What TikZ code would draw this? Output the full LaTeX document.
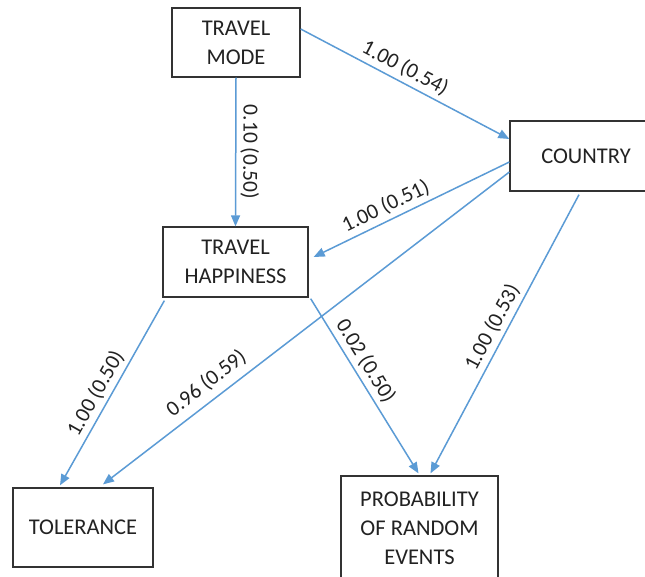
\documentclass[tikz,border=0pt]{standalone}
\usepackage{fontspec}
\setmainfont{Carlito}
\usetikzlibrary{arrows.meta,calc}
\definecolor{edgeblue}{HTML}{5B9BD5}
\definecolor{boxgray}{HTML}{333333}
\definecolor{txtgray}{HTML}{222222}
\begin{document}
\begin{tikzpicture}[x=1pt,y=-1pt,
 box/.style={draw=boxgray,line width=1.3pt,fill=white,align=center,text=txtgray,font=\fontsize{22.5}{29}\selectfont,inner sep=0pt},
 link/.style={draw=edgeblue,line width=1.5pt,-{Triangle[length=11pt,width=9pt]}},
 lbl/.style={sloped,above,text=txtgray,font=\fontsize{21.5}{25}\selectfont,inner sep=4pt}]
\useasboundingbox (0,0) rectangle (645,576);
\fill[white] (0,0) rectangle (645,576);
\node[box,minimum width=128pt,minimum height=69pt] (tm) at (236,42.5) {TRAVEL\\MODE};
\node[box,minimum width=152pt,minimum height=70pt] (co) at (586,156) {COUNTRY};
\node[box,minimum width=145pt,minimum height=70pt] (th) at (235.5,262) {TRAVEL\\HAPPINESS};
\node[box,minimum width=140pt,minimum height=79pt] (tol) at (83,527.5) {TOLERANCE};
\node[box,minimum width=157pt,minimum height=104pt] (pr) at (419.5,528) {PROBABILITY\\OF RANDOM\\EVENTS};
\draw[link] ($(tm.east)+(0,-13.5)$) -- node[lbl,pos=0.47]{1.00 (0.54)} ($(co.west)+(0,-17)$);
\draw[link] (tm.south) -- node[lbl,allow upside down,pos=0.5]{0.10 (0.50)} (th.north);
\draw[link] ($(co.west)+(0,6)$) -- node[lbl,pos=0.6]{1.00 (0.51)} ($(th.east)+(5,-5)$);
\draw[link] ($(co.west)+(0,16)$) -- node[lbl,pos=0.72,yshift=3pt]{0.96 (0.59)} ($(tol.north)+(20,-3)$);
\draw[link] ($(co.south)+(-7,3)$) -- node[lbl,pos=0.5]{1.00 (0.53)} ($(pr.north)+(11,-2)$);
\draw[link] ($(th.south east)+(2,1)$) -- node[lbl,pos=0.4]{0.02 (0.50)} ($(pr.north)+(-1,-2)$);
\draw[link] ($(th.south west)+(2,3)$) -- node[lbl,pos=0.54]{1.00 (0.50)} ($(tol.north)+(-23,-2)$);
\end{tikzpicture}
\end{document}
